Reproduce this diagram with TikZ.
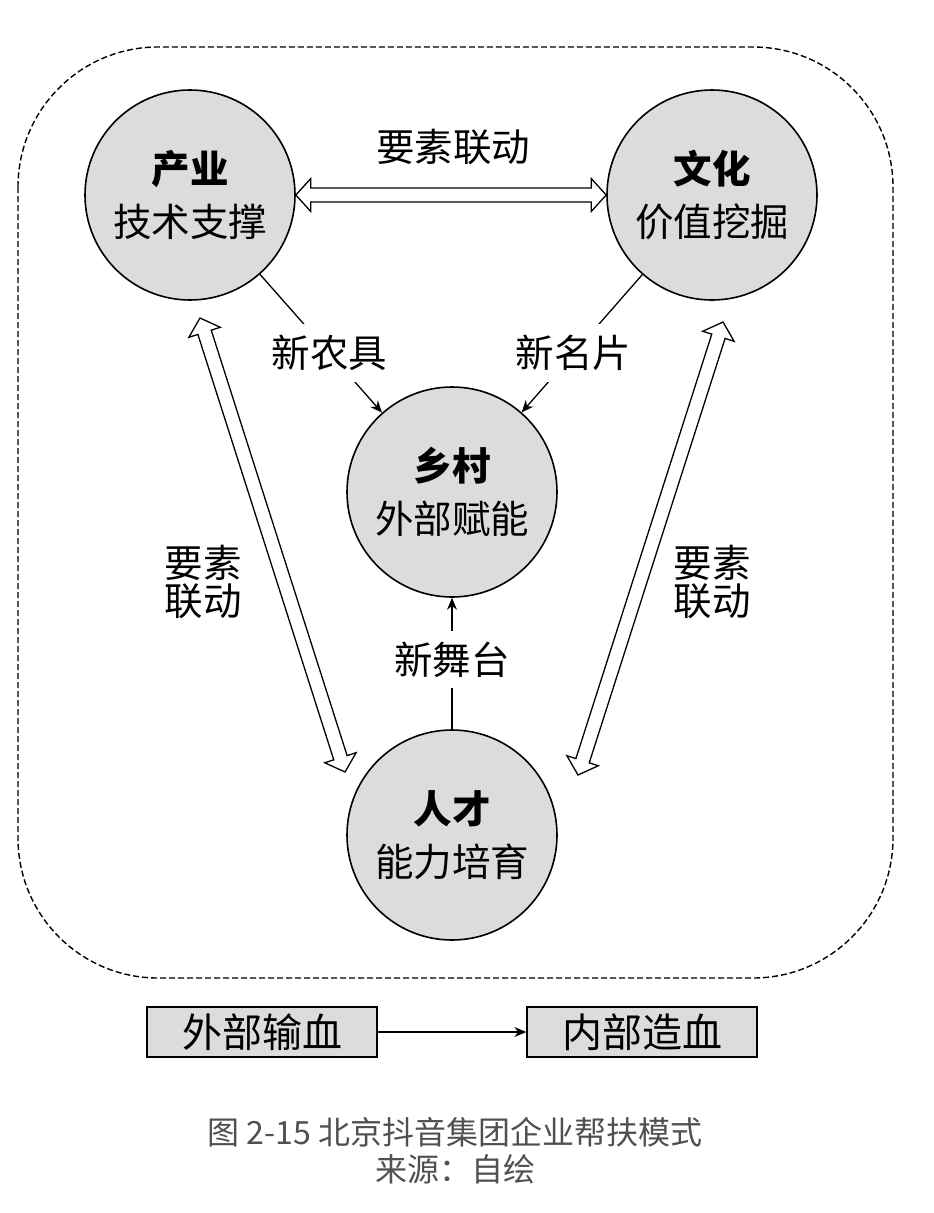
\documentclass[tikz,border=0pt]{standalone}
\usepackage{fontspec}
\newfontfamily\cjk{Noto Sans CJK SC}
\usepackage{xcolor}
\definecolor{FieldGray}{RGB}{220,220,220}
\definecolor{CapGray}{RGB}{80,80,80}
\usetikzlibrary{calc, positioning, arrows.meta}

% hollow two-headed arrow between two points
\newcommand{\linkarrow}[2]{%
  \draw[hollowarrow] (#1)
    -- ($(#1)!15pt!(#2)!16.5pt!90:(#2)$)
    -- ($(#1)!15pt!(#2)!7pt!90:(#2)$)
    -- ($(#2)!15pt!(#1)!7pt!-90:(#1)$)
    -- ($(#2)!15pt!(#1)!16.5pt!-90:(#1)$)
    -- (#2)
    -- ($(#2)!15pt!(#1)!16.5pt!90:(#1)$)
    -- ($(#2)!15pt!(#1)!7pt!90:(#1)$)
    -- ($(#1)!15pt!(#2)!7pt!-90:(#2)$)
    -- ($(#1)!15pt!(#2)!16.5pt!-90:(#2)$)
    -- cycle;}

\begin{document}
\begin{tikzpicture}[
    x=1pt, y=-1pt,
    font=\cjk\fontsize{38.5pt}{53pt}\selectfont,
    >={Stealth[length=12pt, width=10pt]},
    line width=1.3pt,
    % Styles
    field/.style={circle, draw=black, line width=1.6pt, fill=FieldGray, minimum size=210pt, inner sep=0pt, align=center},
    tag/.style={fill=white, inner sep=11pt},
    pairtag/.style={align=center, font=\cjk\fontsize{38.5pt}{38pt}\selectfont},
    flowbox/.style={rectangle, draw=black, fill=FieldGray, minimum width=230pt, minimum height=50pt, inner sep=0pt, font=\cjk\fontsize{40pt}{44pt}\selectfont},
    hollowarrow/.style={draw=black, fill=white, line width=1.3pt, line join=miter},
    caption/.style={text=CapGray, align=center, font=\cjk\fontsize{32pt}{37pt}\selectfont}
]

    \useasboundingbox (0,0) rectangle (934,1213);

    % 1. THE FRAME
    \draw[line width=1.4pt, dash pattern=on 6pt off 3pt, rounded corners=140pt] (18,47) rectangle (893,978);

    % 2. THE FOUR FIELDS
    \node[field] (chanye) at (190,195) {{\bfseries 产业}\\技术支撑};
    \node[field] (wenhua) at (712,195) {{\bfseries 文化}\\价值挖掘};
    \node[field] (xiangcun) at (452,492) {{\bfseries 乡村}\\外部赋能};
    \node[field] (rencai) at (452,835) {{\bfseries 人才}\\能力培育};

    % 3. ELEMENT LINKAGE (hollow arrows)
    \linkarrow{chanye.east}{wenhua.west}
    \node (toplink) at (453,147) {要素联动};

    \coordinate (cyfoot) at (200,318);
    \coordinate (rcleft) at (345,772);
    \linkarrow{cyfoot}{rcleft}
    \node[pairtag] (leftlink) at (203,582) {要素\\联动};

    \coordinate (whfoot) at (723,322);
    \coordinate (rcright) at (578,775);
    \linkarrow{whfoot}{rcright}
    \node[pairtag] (rightlink) at (712,582) {要素\\联动};

    % 4. INTO THE VILLAGE
    \draw[->] (chanye) -- (xiangcun) node[tag, pos=0.57] (nongju) {新农具};
    \draw[->] (wenhua) -- (xiangcun) node[tag, pos=0.57] (mingpian) {新名片};
    \draw[->] (rencai) -- (xiangcun) node[tag, pos=0.53] (wutai) {新舞台};

    % 5. FROM OUTSIDE TO INSIDE
    \node[flowbox] (shuxue) at (262,1032) {外部输血};
    \node[flowbox] (zaoxue) at (642,1032) {内部造血};
    \draw[->] (shuxue) -- (zaoxue);

    \node[caption] (cap) at (455,1151) {图 2-15 北京抖音集团企业帮扶模式\\来源：自绘};

\end{tikzpicture}
\end{document}
